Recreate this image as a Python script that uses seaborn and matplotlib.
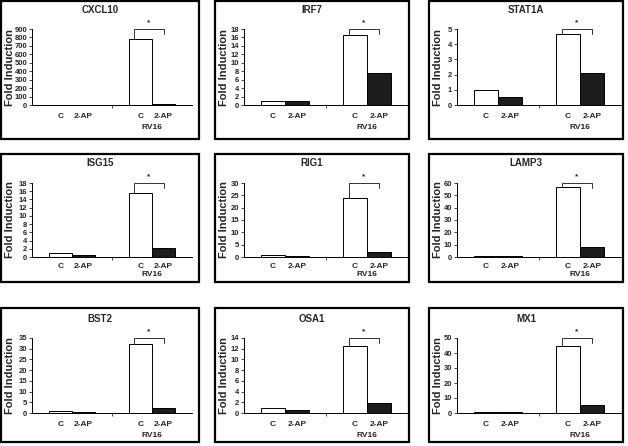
import matplotlib
matplotlib.use("Agg")
import matplotlib.pyplot as plt
import seaborn as sns
import pandas as pd
import numpy as np
from matplotlib.patches import Rectangle
from matplotlib.lines import Line2D

genes = ["CXCL10", "IRF7", "STAT1A", "ISG15", "RIG1", "LAMP3", "BST2", "OSA1", "MX1"]
c_mock = [1.0, 1.0, 1.0, 1.0, 1.0, 1.0, 1.0, 1.0, 1.0]
ap_mock = [0.5, 0.9, 0.5, 0.5, 0.5, 0.5, 0.6, 0.5, 0.5]
c_rv16 = [780, 16.5, 4.65, 15.5, 24.0, 56.5, 32.0, 12.5, 44.5]
ap_rv16 = [15, 7.5, 2.1, 2.1, 2.0, 8.0, 2.2, 1.9, 5.5]
y_max = [900, 18, 5, 18, 30, 60, 35, 14, 50]
y_step = [100, 2, 1, 2, 5, 10, 5, 2, 10]
groups = ["Mock", "RV16"]
treatments = ["C", "2-AP"]
group_labels = ["", "RV16"]
ylabel = "Fold Induction"

sns.set_style("white")
NARROW = ["Liberation Sans Narrow", "Liberation Sans", "DejaVu Sans"]
plt.rcParams["font.family"] = NARROW

W, H = 628, 446
fig = plt.figure(figsize=(W / 100, H / 100), dpi=100)

col_panel = [(1, 199), (215, 409), (429, 623)]
row_panel = [(1, 139), (154, 282), (308, 442)]
col_ax = [(32, 160), (244, 164), (457, 164)]
row_ax = [(29, 105), (183, 257), (338, 413)]
title_y = [10, 163, 319]
lab_off = [(-8.6, -16), (-6.5, -12.5), (-8.6, -16)]


def fx(px):
    return px / W


def fy(py):
    return 1 - py / H


bw = 0.58
for i, gene in enumerate(genes):
    r, c = divmod(i, 3)
    # panel border
    px0, px1 = col_panel[c]
    py0, py1 = row_panel[r]
    fig.patches.append(Rectangle((fx(px0), fy(py1)), fx(px1 - px0), (py1 - py0) / H,
                                 transform=fig.transFigure, fill=False,
                                 edgecolor="black", linewidth=1.6))
    axl, axw = col_ax[c]
    axt, axb = row_ax[r]
    ax = fig.add_axes([fx(axl), fy(axb), fx(axw), (axb - axt) / H])
    df = pd.DataFrame({
        "group": [groups[0], groups[0], groups[1], groups[1]],
        "treatment": treatments * 2,
        "value": [c_mock[i], ap_mock[i], c_rv16[i], ap_rv16[i]],
    })
    sns.barplot(data=df, x="group", y="value", hue="treatment", order=groups,
                hue_order=treatments, palette={"C": "white", "2-AP": "#1c1c1c"},
                edgecolor="black", linewidth=0.7, width=bw, ax=ax, legend=False,
                errorbar=None)
    ax.set_xlim(-0.5, 1.5)
    ax.set_ylim(0, y_max[i])
    ax.set_yticks(np.arange(0, y_max[i] + y_step[i] / 2, y_step[i]))
    ax.set_yticklabels([str(int(v)) for v in ax.get_yticks()],
                       fontsize=5.5, fontweight="bold")
    ax.set_xticks([0.5])
    ax.set_xticklabels([""])
    ax.set_xlabel("")
    ax.set_ylabel("")
    for s in ["top", "right"]:
        ax.spines[s].set_visible(False)
    for s in ["left", "bottom"]:
        ax.spines[s].set_color("black")
        ax.spines[s].set_linewidth(0.7)
    ax.tick_params(axis="y", length=2, width=0.6, pad=1.5, direction="out", left=True)
    ax.tick_params(axis="x", length=2.5, width=0.6, direction="out", bottom=True)
    ax.patch.set_alpha(0)

    # under-bar labels
    off = bw / 4
    o1, o2 = lab_off[r]
    for g in range(2):
        for k, t in enumerate(treatments):
            xx = g + (-off if k == 0 else off)
            ax.annotate(t, xy=(xx, 0), xycoords=("data", "axes fraction"),
                        xytext=(0, o1), textcoords="offset points",
                        ha="center", va="center", fontsize=6, fontweight="bold")
        if group_labels[g]:
            ax.annotate(group_labels[g], xy=(g, 0), xycoords=("data", "axes fraction"),
                        xytext=(0, o2), textcoords="offset points",
                        ha="center", va="center", fontsize=6, fontweight="bold")

    # significance bracket
    ym = y_max[i]
    xl = 1 - 0.22
    xr = 1 + off
    top = ym * 1.0
    ax.add_line(Line2D([xl, xl, xr, xr], [c_rv16[i], top, top, ym * 0.93],
                       color="#333333", linewidth=0.7, clip_on=False))
    ax.text((xl + xr) / 2, ym * 1.04, "*", ha="center", va="bottom",
            fontsize=6, fontweight="bold", clip_on=False)

    # title and y label
    fig.text(fx((px0 + px1) / 2), fy(title_y[r]), gene, ha="center", va="center",
             fontsize=7, fontweight="bold")
    fig.text(fx(px0 + 9), fy((axt + axb) / 2), ylabel, rotation=90, ha="center",
             va="center", fontsize=8, fontweight="bold")

fig.savefig("out.png", dpi=100, facecolor="white")
